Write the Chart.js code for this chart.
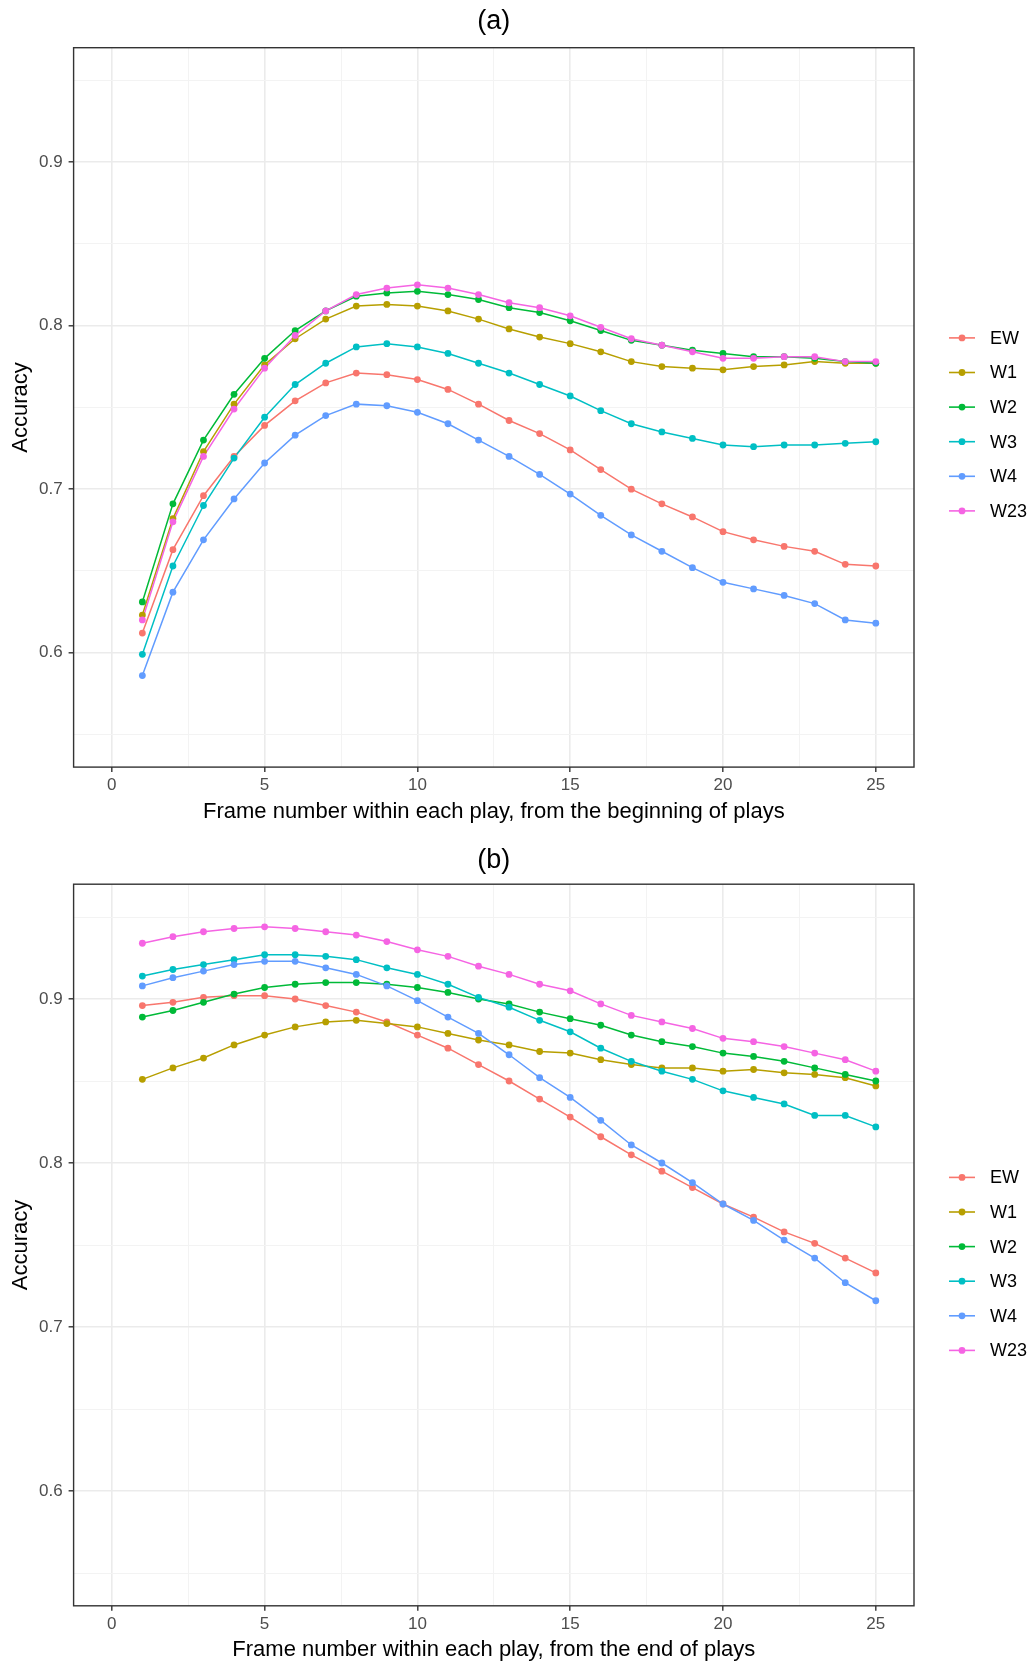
<!DOCTYPE html>
<html>
<head>
<meta charset="utf-8">
<script src="https://cdn.jsdelivr.net/npm/chart.js@4.4.1/dist/chart.umd.min.js"></script>
<style>
html,body{margin:0;padding:0;background:#ffffff;}
#wrap{position:relative;width:1035px;height:1666px;overflow:hidden;}
.pane{position:absolute;left:0;width:1035px;}
canvas{display:block;}
</style>
</head>
<body>
<div id="wrap">
  <div class="pane" style="top:0px;height:833px"><canvas id="ca" width="1035" height="833"></canvas></div>
  <div class="pane" style="top:833px;height:833px"><canvas id="cb" width="1035" height="833"></canvas></div>
</div>
<script>
// ---------- data ----------
const frames = [1,2,3,4,5,6,7,8,9,10,11,12,13,14,15,16,17,18,19,20,21,22,23,24,25];
const seriesNames = ['EW','W1','W2','W3','W4','W23'];
const seriesColors = ['#F8766D','#B79F00','#00BA38','#00BFC4','#619CFF','#F564E3'];
const xTickValues = [0,5,10,15,20,25];
const yTickValues = [0.6,0.7,0.8,0.9];
const panelTitles = ['(a)','(b)'];
const xTitles = ['Frame number within each play, from the beginning of plays','Frame number within each play, from the end of plays'];
const yTitle = 'Accuracy';

// panel (a): from the beginning of plays
const aEW  = [0.612,0.663,0.696,0.720,0.739,0.754,0.765,0.771,0.770,0.767,0.761,0.752,0.742,0.734,0.724,0.712,0.700,0.691,0.683,0.674,0.669,0.665,0.662,0.654,0.653];
const aW1  = [0.623,0.682,0.723,0.752,0.776,0.792,0.804,0.812,0.813,0.812,0.809,0.804,0.798,0.793,0.789,0.784,0.778,0.775,0.774,0.773,0.775,0.776,0.778,0.777,0.777];
const aW2  = [0.631,0.691,0.730,0.758,0.780,0.797,0.809,0.818,0.820,0.821,0.819,0.816,0.811,0.808,0.803,0.797,0.791,0.788,0.785,0.783,0.781,0.781,0.780,0.778,0.777];
const aW3  = [0.599,0.653,0.690,0.719,0.744,0.764,0.777,0.787,0.789,0.787,0.783,0.777,0.771,0.764,0.757,0.748,0.740,0.735,0.731,0.727,0.726,0.727,0.727,0.728,0.729];
const aW4  = [0.586,0.637,0.669,0.694,0.716,0.733,0.745,0.752,0.751,0.747,0.740,0.730,0.720,0.709,0.697,0.684,0.672,0.662,0.652,0.643,0.639,0.635,0.630,0.620,0.618];
const aW23 = [0.620,0.680,0.720,0.749,0.774,0.794,0.809,0.819,0.823,0.825,0.823,0.819,0.814,0.811,0.806,0.799,0.792,0.788,0.784,0.780,0.780,0.781,0.781,0.778,0.778];

// panel (b): from the end of plays
const bEW  = [0.896,0.898,0.901,0.902,0.902,0.900,0.896,0.892,0.886,0.878,0.870,0.860,0.850,0.839,0.828,0.816,0.805,0.795,0.785,0.775,0.767,0.758,0.751,0.742,0.733];
const bW1  = [0.851,0.858,0.864,0.872,0.878,0.883,0.886,0.887,0.885,0.883,0.879,0.875,0.872,0.868,0.867,0.863,0.860,0.858,0.858,0.856,0.857,0.855,0.854,0.852,0.847];
const bW2  = [0.889,0.893,0.898,0.903,0.907,0.909,0.910,0.910,0.909,0.907,0.904,0.900,0.897,0.892,0.888,0.884,0.878,0.874,0.871,0.867,0.865,0.862,0.858,0.854,0.850];
const bW3  = [0.914,0.918,0.921,0.924,0.927,0.927,0.926,0.924,0.919,0.915,0.909,0.901,0.895,0.887,0.880,0.870,0.862,0.856,0.851,0.844,0.840,0.836,0.829,0.829,0.822];
const bW4  = [0.908,0.913,0.917,0.921,0.923,0.923,0.919,0.915,0.908,0.899,0.889,0.879,0.866,0.852,0.840,0.826,0.811,0.800,0.788,0.775,0.765,0.753,0.742,0.727,0.716];
const bW23 = [0.934,0.938,0.941,0.943,0.944,0.943,0.941,0.939,0.935,0.930,0.926,0.920,0.915,0.909,0.905,0.897,0.890,0.886,0.882,0.876,0.874,0.871,0.867,0.863,0.856];

const panelASeries = [aEW,aW1,aW2,aW3,aW4,aW23];
const panelBSeries = [bEW,bW1,bW2,bW3,bW4,bW23];

// ---------- styling ----------
Chart.defaults.font.family = "'Liberation Sans', Arial, sans-serif";
const FONT = "'Liberation Sans', Arial, sans-serif";
const X_MIN = -1.25, X_MAX = 26.25, Y_MIN = 0.53, Y_MAX = 0.97;

function isMajorX(v){ return Math.abs(v/5 - Math.round(v/5)) < 1e-6; }
function isMajorY(v){ return Math.abs(v*10 - Math.round(v*10)) < 1e-6; }

const panelFrame = {
  id: 'panelFrame',
  afterDraw(chart, args, opts) {
    const {ctx, chartArea: a} = chart;
    ctx.save();
    ctx.strokeStyle = '#333333';
    ctx.lineWidth = 1.4;
    ctx.strokeRect(a.left, a.top, a.right - a.left, a.bottom - a.top);
    // legend
    ctx.font = '18px ' + FONT;
    ctx.textBaseline = 'middle';
    ctx.textAlign = 'left';
    seriesNames.forEach((name, i) => {
      const y = opts.legendTop + i * opts.legendStep;
      ctx.strokeStyle = seriesColors[i];
      ctx.lineWidth = 1.6;
      ctx.beginPath();
      ctx.moveTo(949, y);
      ctx.lineTo(975, y);
      ctx.stroke();
      ctx.fillStyle = seriesColors[i];
      ctx.beginPath();
      ctx.arc(962, y, 3.4, 0, Math.PI * 2);
      ctx.fill();
      ctx.fillStyle = '#000000';
      ctx.fillText(name, 990, y + 1);
    });
    ctx.restore();
  }
};

function makePanel(canvasId, seriesList, title, xTitle, geo) {
  const datasets = [];
  seriesList.forEach((vals, i) => {
    const pts = frames.map((f, k) => ({x: f, y: vals[k]}));
    datasets.push({
      label: seriesNames[i] + ' line',
      data: pts,
      borderColor: seriesColors[i],
      backgroundColor: seriesColors[i],
      borderWidth: 1.5,
      pointRadius: 0,
      tension: 0,
      fill: false,
      order: 100 - i
    });
    datasets.push({
      label: seriesNames[i],
      data: pts,
      showLine: false,
      pointRadius: 3.4,
      pointBorderWidth: 0,
      pointBackgroundColor: seriesColors[i],
      borderColor: seriesColors[i],
      order: 50 - i
    });
  });

  return new Chart(document.getElementById(canvasId), {
    type: 'line',
    data: { datasets },
    plugins: [panelFrame],
    options: {
      responsive: false,
      animation: false,
      events: [],
      layout: { padding: { left: 0, right: 121, top: 0, bottom: 0 } },
      plugins: {
        legend: { display: false },
        tooltip: { enabled: false },
        title: {
          display: true,
          text: title,
          fullSize: false,
          color: '#000000',
          font: { size: 27, weight: 'normal', family: FONT },
          padding: { top: geo.titlePadTop, bottom: geo.titlePadBottom }
        },
        panelFrame: { legendTop: geo.legendTop, legendStep: 34.6 }
      },
      scales: {
        x: {
          type: 'linear',
          min: X_MIN,
          max: X_MAX,
          afterBuildTicks(scale) {
            const t = [];
            for (let k = 0; k <= 10; k++) t.push({ value: k * 2.5 });
            scale.ticks = t;
          },
          afterFit(scale) { scale.height = geo.xAxisHeight; },
          ticks: {
            autoSkip: false,
            maxRotation: 0,
            color: '#4D4D4D',
            font: { size: 17, family: FONT },
            padding: 3,
            callback(v) { return xTickValues.includes(v) ? String(v) : ''; }
          },
          grid: {
            drawOnChartArea: true,
            drawTicks: true,
            tickLength: 5,
            color: c => (c.tick && isMajorX(c.tick.value)) ? '#EBEBEB' : '#F3F3F3',
            lineWidth: c => (c.tick && isMajorX(c.tick.value)) ? 1.6 : 1,
            tickColor: c => (c.tick && isMajorX(c.tick.value)) ? '#333333' : 'rgba(0,0,0,0)',
            tickWidth: 1.4
          },
          border: { display: false },
          title: {
            display: true,
            text: xTitle,
            color: '#000000',
            font: { size: 22, family: FONT },
            padding: { top: 0, bottom: geo.xTitlePadBottom }
          }
        },
        y: {
          type: 'linear',
          min: Y_MIN,
          max: Y_MAX,
          afterBuildTicks(scale) {
            const t = [];
            for (let k = 55; k <= 95; k += 5) t.push({ value: k / 100 });
            scale.ticks = t;
          },
          afterFit(scale) { scale.width = 73.6; },
          ticks: {
            autoSkip: false,
            color: '#4D4D4D',
            font: { size: 17, family: FONT },
            padding: 6,
            callback(v) {
              const hit = yTickValues.find(t => Math.abs(t - v) < 1e-6);
              return hit !== undefined ? hit.toFixed(1) : '';
            }
          },
          grid: {
            drawOnChartArea: true,
            drawTicks: true,
            tickLength: 5,
            color: c => (c.tick && isMajorY(c.tick.value)) ? '#EBEBEB' : '#F3F3F3',
            lineWidth: c => (c.tick && isMajorY(c.tick.value)) ? 1.6 : 1,
            tickColor: c => (c.tick && isMajorY(c.tick.value)) ? '#333333' : 'rgba(0,0,0,0)',
            tickWidth: 1.4
          },
          border: { display: false },
          title: {
            display: true,
            text: yTitle,
            color: '#000000',
            font: { size: 22, family: FONT },
            padding: { top: 8, bottom: 0 }
          }
        }
      }
    }
  });
}

makePanel('ca', panelASeries, panelTitles[0], xTitles[0], {
  titlePadTop: 5, titlePadBottom: 10.3, xAxisHeight: 65.9, xTitlePadBottom: 7.8, legendTop: 337.9
});
makePanel('cb', panelBSeries, panelTitles[1], xTitles[1], {
  titlePadTop: 11.5, titlePadBottom: 7.3, xAxisHeight: 60.2, xTitlePadBottom: 2.6, legendTop: 344.4
});
</script>
</body>
</html>
